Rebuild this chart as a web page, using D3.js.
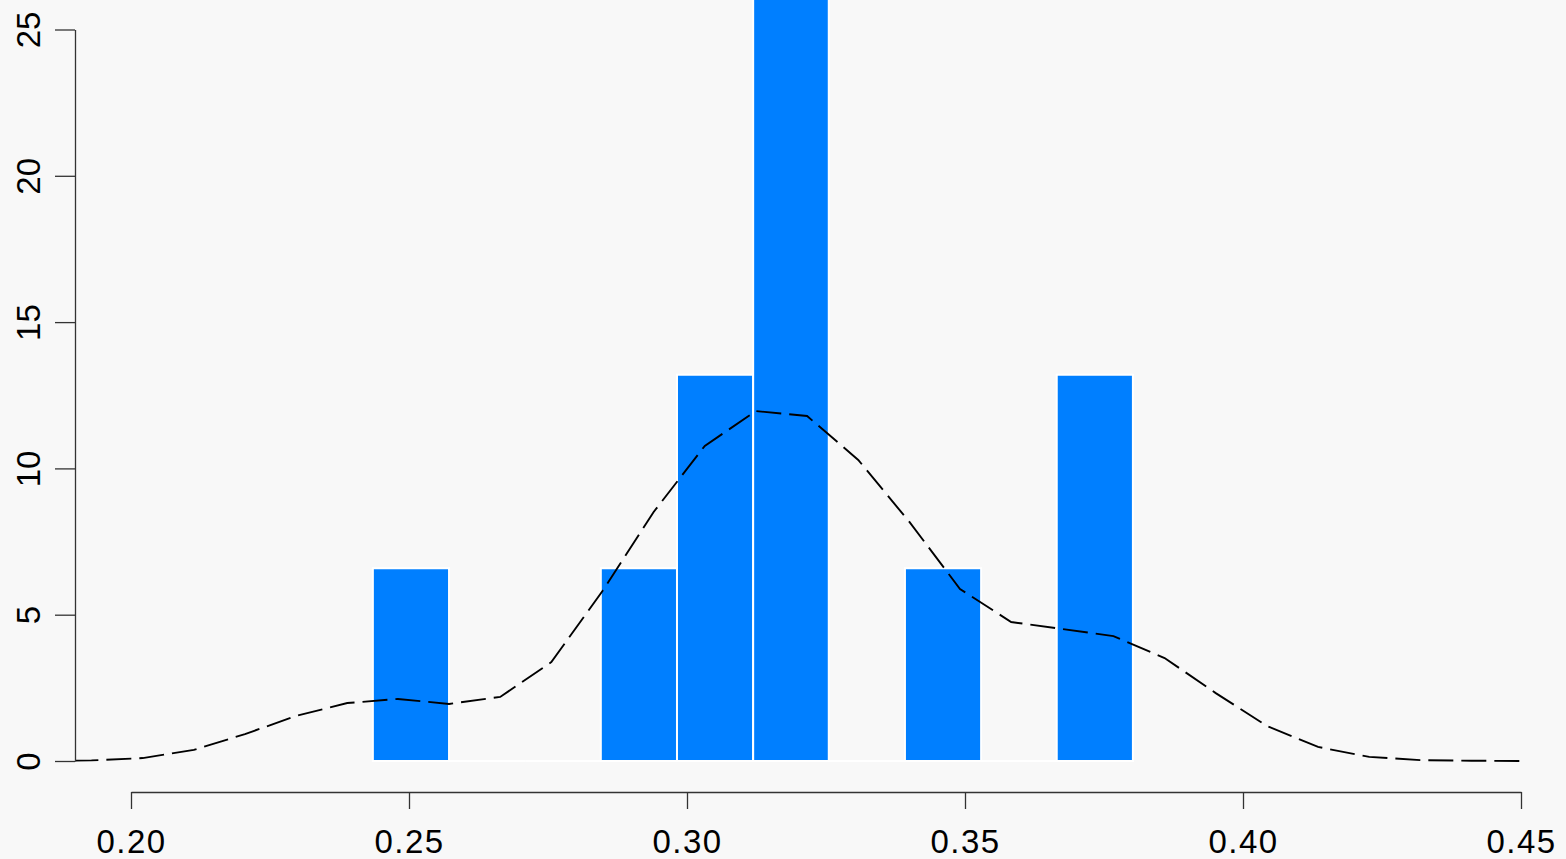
<!DOCTYPE html>
<html>
<head>
<meta charset="utf-8">
<script src="https://cdn.jsdelivr.net/npm/d3@7"></script>
<style>
	body { margin: 0; background: #f8f8f8; }
	svg { display: block; }
	.axis text { font-family: "Liberation Sans", Arial, sans-serif; font-size: 33px; fill: #000; }
	.axis path, .axis line { stroke: #333; stroke-width: 1.3; }
</style>
</head>
<body>
<script>
"use strict"
const w = 1566;
const h = 859;

// histogram bins (density scale)
const binEdges = [0.2435, 0.2572, 0.2709, 0.2845, 0.2982, 0.3119, 0.3255, 0.3392, 0.3529, 0.3665, 0.3802];
const binDensity = [6.59, 0, 0, 6.59, 13.2, 26.4, 0, 6.59, 0, 13.2];

// kernel density curve
const densX = [0.1837, 0.1929, 0.2021, 0.2113, 0.2205, 0.2297, 0.2389, 0.2480, 0.2572, 0.2664,
	0.2756, 0.2848, 0.2940, 0.3032, 0.3124, 0.3216, 0.3308, 0.3400, 0.3491, 0.3583,
	0.3675, 0.3767, 0.3859, 0.3951, 0.4043, 0.4135, 0.4227, 0.4319, 0.4411, 0.4502];
const densY = [0.00, 0.02, 0.10, 0.38, 0.92, 1.54, 1.98, 2.12, 1.95, 2.19,
	3.38, 5.81, 8.51, 10.77, 11.96, 11.79, 10.29, 8.17, 5.88, 4.75,
	4.51, 4.27, 3.52, 2.32, 1.20, 0.48, 0.14, 0.03, 0.01, 0.00];

const xTicks = [0.20, 0.25, 0.30, 0.35, 0.40, 0.45];
const yTicks = [0, 5, 10, 15, 20, 25];

const mySvg = d3.select('body')
		.append('svg')
		.attr('width', w)
		.attr('height', h)
		.style('background-color', '#f8f8f8');

const xScale = d3.scaleLinear().domain([0.20, 0.45]).range([131, 1521]);
const yScale = d3.scaleLinear().domain([0, 25]).range([761, 29.5]);

mySvg.append('clipPath')
	.attr('id', 'plot-clip')
	.append('rect')
	.attr('x', 75).attr('y', 0)
	.attr('width', w - 75).attr('height', h);

const bins = binDensity.map((d, i) => ({x0: binEdges[i], x1: binEdges[i + 1], v: d}));

// bars as paths so empty bins still show their white border on the baseline
mySvg.append('g')
	.attr('clip-path', 'url(#plot-clip)')
	.selectAll('path')
	.data(bins)
	.enter()
	.append('path')
	.attr('d', d => 'M' + xScale(d.x0) + ',' + yScale(0)
		+ 'H' + xScale(d.x1)
		+ 'V' + yScale(d.v)
		+ 'H' + xScale(d.x0) + 'Z')
	.attr('fill', '#007fff')
	.attr('stroke', '#ffffff')
	.attr('stroke-width', 2);

const line = d3.line()
	.x((d, i) => xScale(densX[i]))
	.y(d => yScale(d));

mySvg.append('path')
	.datum(densY)
	.attr('clip-path', 'url(#plot-clip)')
	.attr('d', line)
	.attr('fill', 'none')
	.attr('stroke', '#000')
	.attr('stroke-width', 1.9)
	.attr('stroke-dasharray', '25 8');

const xAxis = d3.axisBottom(xScale)
	.tickValues(xTicks)
	.tickFormat(d3.format('.2f'))
	.tickSize(17)
	.tickSizeOuter(0)
	.tickPadding(21);

mySvg.append('g')
	.attr('class', 'axis')
	.attr('transform', 'translate(0, 792)')
	.call(xAxis)
	.selectAll('text')
	.style('letter-spacing', '1.5px');

const yAxis = d3.axisLeft(yScale)
	.tickValues(yTicks)
	.tickSize(20)
	.tickSizeOuter(0);

const gy = mySvg.append('g')
	.attr('class', 'axis')
	.attr('transform', 'translate(75, 0)')
	.call(yAxis);

gy.selectAll('text')
	.attr('x', 0)
	.attr('dy', 0)
	.attr('text-anchor', 'middle')
	.attr('transform', 'translate(-35, 0) rotate(-90)');
</script>
</body>
</html>
